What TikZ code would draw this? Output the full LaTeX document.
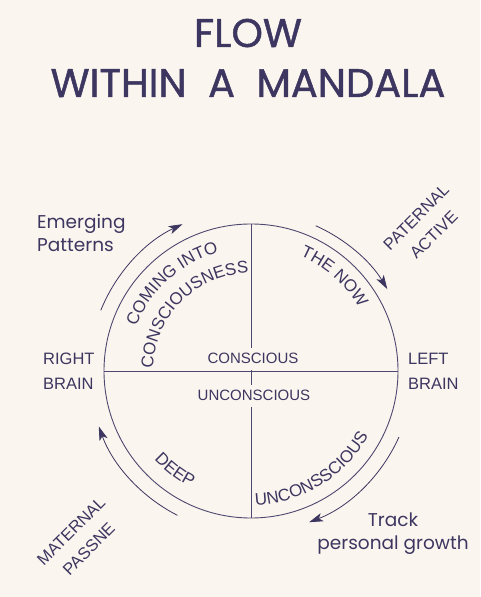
\documentclass[tikz,border=0pt]{standalone}
\usepackage{fontspec}
\setmainfont{Liberation Sans}
\newfontfamily\roundfont{Poppins}
\newfontfamily\headfont[FakeBold=1.2]{Poppins}
\usetikzlibrary{arrows.meta,decorations.text,calc}
\definecolor{paper}{HTML}{FAF5EE}
\definecolor{ink}{HTML}{3D3660}
\definecolor{rim}{HTML}{4E4870}
\newcommand\curvefont{\fontsize{17}{17}\selectfont\color{ink}}
\tikzset{
  title/.style={text=ink, inner sep=0pt, font=\headfont\fontsize{40}{50}\selectfont},
  lbl/.style={text=ink, inner sep=0pt, align=left, font=\fontsize{16.5}{25}\selectfont},
  soft/.style={text=ink, inner sep=0pt, align=left, font=\roundfont\fontsize{18.5}{23}\selectfont},
  mid/.style={text=ink, fill=paper, inner xsep=3pt, inner ysep=6pt, font=\fontsize{15}{18}\selectfont},
  ring/.style={draw=rim, line width=0.9pt},
  flowarc/.style={draw=ink, line width=0.8pt, -{Stealth[length=14pt,width=8.5pt,inset=3.5pt]}},
  curved/.style={decoration={text along path, text align=center, text={#1}}, decorate},
}
\begin{document}
\begin{tikzpicture}[x=1pt, y=1pt]
\useasboundingbox[fill=paper] (0,0) rectangle (480,597);
\coordinate (c) at (251,226);
\node (flow) [title, anchor=base] at (248,550) {FLOW};
\node (within) [title, anchor=base] at (248,500) {WITHIN~~A~~MANDALA};

\draw[ring] (c) circle[radius=147];
\draw[ring] ($(c)+(180:147)$) -- ($(c)+(0:147)$);
\draw[ring] ($(c)+(90:147)$) -- ($(c)+(270:147)$);
\node (conscious) [mid, anchor=base] at (253,233) {CONSCIOUS};
\node (unconscious) [mid, anchor=base] at (254,196) {UNCONSCIOUS};

\path[curved={|\curvefont|COMING INTO}] ($(c)+(172:123)$) arc[start angle=172, end angle=92, radius=123];
\path[curved={|\curvefont|CONSCIOUSNESS}] ($(c)+(185:98)$) arc[start angle=185, end angle=85, radius=98];
\path[curved={|\curvefont|THE NOW}] ($(c)+(88.5:125)$) arc[start angle=88.5, end angle=8.5, radius=125];
\path[curved={|\curvefont|DEEP}] ($(c)+(192.5:131)$) arc[start angle=192.5, end angle=272.5, radius=131];
\path[curved={|\curvefont|UNCONSSCIOUS}] ($(c)+(-108.5:134)$) arc[start angle=-108.5, end angle=-8.5, radius=134];

\draw[flowarc] ($(c)+(158:162)$) arc[start angle=158, end angle=115, radius=162];
\draw[flowarc] ($(c)+(66:159)$) arc[start angle=66, end angle=31, radius=159];
\draw[flowarc] ($(c)+(-24:162)$) arc[start angle=-24, end angle=-69, radius=162];
\draw[flowarc] ($(c)+(243:162)$) arc[start angle=243, end angle=200, radius=162];

\node (emerging) [soft, anchor=west] at (37,364) {Emerging\\Patterns};
\node (rightbrain) [lbl, anchor=west] at (43,225.5) {RIGHT\\BRAIN};
\node (leftbrain) [lbl, anchor=west] at (408,225.5) {LEFT\\BRAIN};
\node (track) [soft, align=center] at (393,63) {Track\\personal growth};
\node (paternal) [lbl, align=center, rotate=45] at (425,371) {PATERNAL\\ACTIVE};
\node (maternal) [lbl, align=center, rotate=45] at (80,57) {MATERNAL\\PASSNE};
\end{tikzpicture}
\end{document}
